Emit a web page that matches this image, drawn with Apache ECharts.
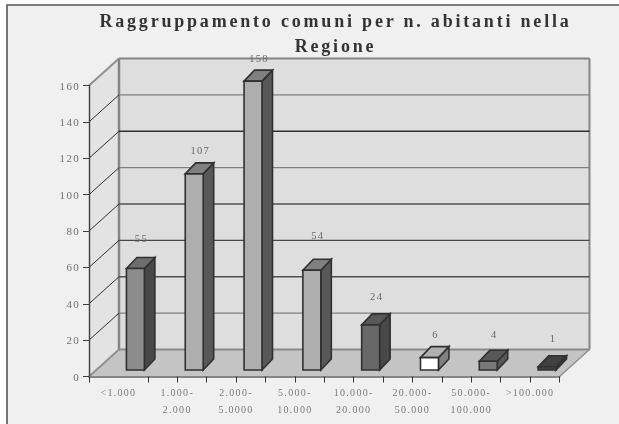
<!DOCTYPE html>
<html>
<head>
<meta charset="utf-8">
<style>
html,body{margin:0;padding:0;background:#fff}
#c{width:619px;height:424px;filter:blur(0.3px)}
#c text{letter-spacing:1.3px}
#c text[style*="bold"]{letter-spacing:2.8px}
</style>
<script src="https://cdn.jsdelivr.net/npm/echarts@6/dist/echarts.min.js"></script>
</head>
<body>
<div id="c"></div>
<script>
const chartTitle = 'Raggruppamento comuni per n. abitanti nella\nRegione';
const categories = ['<1.000','1.000-\n2.000','2.000-\n5.0000','5.000-\n10.000','10.000-\n20.000','20.000-\n50.000','50.000-\n100.000','>100.000'];
const values = [55,107,158,54,24,6,4,1];
const yTicks = [0,20,40,60,80,100,120,140,160];

// styles
const shades = [
  ['#8c8c8c','#6e6e6e','#484848'],
  ['#aeaeae','#808080','#585858'],
  ['#aeaeae','#808080','#585858'],
  ['#aeaeae','#808080','#585858'],
  ['#686868','#585858','#484848'],
  ['#ffffff','#b0b0b0','#808080'],
  ['#787878','#585858','#585858'],
  ['#404040','#404040','#404040']
];
const labelLift = [30,23.5,23,35,28.5,23,27,28.5];
const gridShade = ['#8a8a8a','#808080','#505050','#484848','#505050','#808080','#303030','#808080','#8a8a8a'];
const FONT = '"Liberation Serif","Times New Roman",serif';
const wall = [30,-27];      // depth of the box
const barSet = [17,-6.5];   // where bars stand on the floor
const barTopLift = -1.5;
const barDepth = [10.5,-11];

const chart = echarts.init(document.getElementById('c'),null,{renderer:'svg'});
const shift = (p,d) => [p[0]+d[0],p[1]+d[1]];
const poly = (pts,fill,stroke,lw) => ({type:'polygon',shape:{points:pts},style:{fill,stroke,lineWidth:lw||0}});
const seg = (a,b,stroke,lw) => ({type:'line',shape:{x1:a[0],y1:a[1],x2:b[0],y2:b[1]},style:{stroke,lineWidth:lw}});

function renderBox(params,api){
  const top = yTicks[yTicks.length-1];
  const a = api.coord([0,0]), b = api.coord([16,0]), c = api.coord([16,top]), d = api.coord([0,top]);
  const a2=shift(a,wall), b2=shift(b,wall), c2=shift(c,wall), d2=shift(d,wall);
  return {type:'group',children:[
    poly([d2,c2,b2,a2],'#dedede'),
    poly([d,d2,a2,a],'#e3e3e3'),
    poly([a,b,b2,a2],'#c4c4c4'),
    seg(a2,d2,'#858585',2.5),
    seg(d2,c2,'#858585',2),
    seg(c2,b2,'#858585',2),
    seg(b,b2,'#909090',1.5),
    seg(a,a2,'#909090',2)
  ]};
}
function renderGrid(params,api){
  const v = api.value(1);
  const p = api.coord([0,v]), q = api.coord([16,v]);
  const col = gridShade[params.dataIndex];
  const edge = params.dataIndex===0 || params.dataIndex===yTicks.length-1;
  const kids = [];
  if(!edge) kids.push(seg(p,shift(p,wall),'#303030',1));
  if(params.dataIndex!==yTicks.length-1) kids.push(seg(shift(p,wall),shift(q,wall),col,params.dataIndex===0?2:1.4));
  else kids.push(seg(p,shift(p,wall),'#909090',2));
  return {type:'group',children:kids};
}
function renderBar(params,api){
  const i = params.dataIndex;
  const w = api.size([1,0])[0]*0.305;
  const cx = api.value(0), v = api.value(1);
  const base = shift(api.coord([cx,0]),barSet), top = shift(api.coord([cx,v]),barSet);
  top[1] += barTopLift;
  const L = base[0]-w/2, R = base[0]+w/2;
  const s = shades[i], line='#303030';
  const fl=[L,top[1]], fr=[R,top[1]], br=[R,base[1]], bl=[L,base[1]];
  return {type:'group',children:[
    poly([fr,shift(fr,barDepth),shift(br,barDepth),br],s[2],line,1.6),
    poly([fl,shift(fl,barDepth),shift(fr,barDepth),fr],s[1],line,1.6),
    poly([fl,fr,br,bl],s[0],line,1.6),
    {type:'text',style:{text:String(v),x:(L+R)/2+6,y:top[1]-labelLift[i],align:'center',verticalAlign:'middle',
      fill:'#6a6a6a',font:'10.5px '+FONT}}
  ]};
}

chart.setOption({
  animation:false,
  backgroundColor:'#ffffff',
  graphic:[{type:'rect',z:-10,silent:true,shape:{x:7,y:5,width:620,height:430},
    style:{fill:'#f0f0f0',stroke:'#555555',lineWidth:1.6}}],
  title:{text:chartTitle,left:330.5,top:3,textAlign:'center',
    textStyle:{fontFamily:FONT,fontWeight:'bold',fontSize:18,lineHeight:25,color:'#333333'}},
  grid:{left:89,top:85.5,width:470.5,height:291},
  xAxis:[
    {type:'category',data:categories,position:'bottom',z:6,
     axisTick:{show:false},axisLine:{show:true,lineStyle:{color:'#858585',width:2}},
     axisLabel:{interval:0,margin:7,lineHeight:17,fontFamily:FONT,fontSize:10,color:'#7a7a7a',verticalAlign:'top'}},
    {type:'value',min:0,max:16,position:'bottom',z:6,
     axisLine:{show:false},splitLine:{show:false},axisLabel:{show:false},
     axisTick:{show:true,length:6,inside:false,lineStyle:{color:'#303030',width:1},
       customValues:[0,2,3,4,5,6,7,8,9,10,11,12,13,14,15,16]}}
  ],
  yAxis:{type:'value',min:0,max:160,interval:20,z:6,
    axisLine:{show:true,lineStyle:{color:'#404040',width:1.4}},
    axisTick:{show:true,length:6,lineStyle:{color:'#404040',width:1}},
    axisLabel:{margin:9,fontFamily:FONT,fontSize:11,color:'#707070'},
    splitLine:{show:false}},
  series:[
    {type:'custom',xAxisIndex:1,yAxisIndex:0,z:1,silent:true,data:[[0,0]],renderItem:renderBox},
    {type:'custom',xAxisIndex:1,yAxisIndex:0,z:2,silent:true,data:yTicks.map(v=>[0,v]),renderItem:renderGrid},
    {type:'custom',xAxisIndex:0,yAxisIndex:0,z:4,silent:true,data:values.map((v,i)=>[i,v]),renderItem:renderBar}
  ]
});
</script>
</body>
</html>
